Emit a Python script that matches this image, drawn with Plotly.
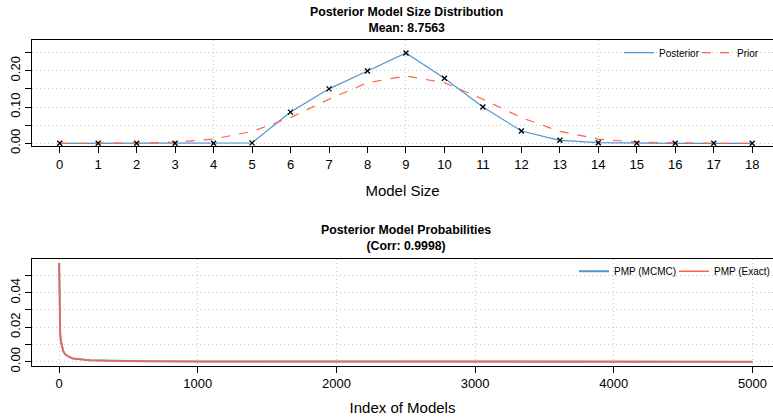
import plotly.graph_objects as go

# ---- data ----
model_size = list(range(19))
posterior = [0.0, 0.0, 0.0, 0.0, 0.0002, 0.0012, 0.086, 0.150, 0.199, 0.249,
             0.179, 0.100, 0.034, 0.0083, 0.0017, 0.0003, 0.0001, 0.0, 0.0]
prior = [0.000004, 0.000069, 0.000584, 0.003113, 0.011673, 0.032684, 0.070816,
         0.121399, 0.166924, 0.185471, 0.166924, 0.121399, 0.070816, 0.032684,
         0.011673, 0.003113, 0.000584, 0.000069, 0.000004]

model_index = [1, 2, 3, 4, 6, 8, 12, 20, 30, 45, 70, 100, 150, 220, 300, 400,
               600, 1000, 2000, 3000, 4000, 5000]
pmp_mcmc = [0.0570, 0.0405, 0.0318, 0.0268, 0.0208, 0.0170, 0.0126, 0.0086,
            0.0061, 0.0043, 0.0029, 0.0019, 0.0013, 0.0009, 0.0007, 0.0005,
            0.0003, 0.00015, 0.00006, 0.00003, 0.00002, 0.00001]
pmp_exact = [0.0574, 0.0410, 0.0320, 0.0270, 0.0210, 0.0171, 0.0125, 0.0085,
             0.0060, 0.0042, 0.0028, 0.0019, 0.0013, 0.0009, 0.0007, 0.0005,
             0.0003, 0.00015, 0.00006, 0.00003, 0.00002, 0.00001]

top_yticks = [0.0, 0.05, 0.10, 0.15, 0.20, 0.25]
top_yticklabels = ["0.00", "", "0.10", "", "0.20", ""]
bot_yticks = [0.0, 0.01, 0.02, 0.03, 0.04, 0.05]
bot_yticklabels = ["0.00", "", "0.02", "", "0.04", ""]
bot_xticks = [0, 1000, 2000, 3000, 4000, 5000]

BLUE = "#4F94CD"
RED = "#FF6347"
GRID = "#C8C8C8"
GDASH = "1px,3px"
W, H = 773, 419
FONT = "Liberation Sans, Arial, Helvetica, sans-serif"

fig = go.Figure()

fig.add_trace(go.Scatter(x=model_size, y=posterior, mode="lines", name="Posterior",
                         line=dict(color=BLUE, width=1.2),
                         xaxis="x", yaxis="y", legend="legend"))
fig.add_trace(go.Scatter(x=model_size, y=prior, mode="lines", name="Prior",
                         line=dict(color=RED, width=1.2, dash="dash"),
                         xaxis="x", yaxis="y", legend="legend3"))
fig.add_trace(go.Scatter(x=model_size, y=posterior, mode="markers", showlegend=False,
                         marker=dict(symbol="x-thin", size=5, color="black",
                                     line=dict(color="black", width=1.3)),
                         xaxis="x", yaxis="y"))

fig.add_trace(go.Scatter(x=model_index, y=pmp_mcmc, mode="lines", name="PMP (MCMC)",
                         line=dict(color=BLUE, width=2),
                         xaxis="x2", yaxis="y2", legend="legend2"))
fig.add_trace(go.Scatter(x=model_index, y=pmp_exact, mode="lines", name="PMP (Exact)",
                         line=dict(color=RED, width=1.6),
                         xaxis="x2", yaxis="y2", legend="legend4"))

def px_y(p):
    return 1 - p / H

def px_x(p):
    return p / W

axis_common = dict(showline=True, linecolor="black", linewidth=1, ticks="outside",
                   ticklen=6, tickcolor="black", tickfont=dict(size=13, color="black"),
                   zeroline=False, automargin=False)

top_dom = [px_y(146), px_y(40)]
bot_dom = [px_y(365.7), px_y(259)]
xdom = [32 / W, 1.0]

def leg(text_left_px, y_px):
    return dict(orientation="h", x=px_x(text_left_px - 39), xanchor="left",
                y=px_y(y_px), yanchor="middle", font=dict(size=10),
                bgcolor="rgba(0,0,0,0)", itemwidth=30)

fig.update_layout(
    width=W, height=H, margin=dict(l=0, r=0, t=0, b=0, autoexpand=False),
    plot_bgcolor="white", paper_bgcolor="white",
    font=dict(family=FONT, color="black"),
    xaxis=dict(domain=xdom, anchor="y", range=[-0.72, 18.54], tickmode="array",
               tickvals=model_size, showgrid=False, mirror=True,
               minor=dict(tickvals=[4, 9, 14], showgrid=True, gridcolor=GRID,
                          griddash=GDASH, gridwidth=1, ticklen=0),
               title=dict(text="Model Size", font=dict(size=15), standoff=14),
               **axis_common),
    yaxis=dict(domain=top_dom, anchor="x", range=[-0.0074, 0.2846], tickmode="array",
               tickvals=top_yticks, ticktext=top_yticklabels, tickangle=-90,
               showgrid=True, gridcolor=GRID, griddash=GDASH, gridwidth=1,
               **axis_common),
    xaxis2=dict(domain=xdom, anchor="y2", range=[-195, 5148], tickmode="array",
                tickvals=bot_xticks, showgrid=True, gridcolor=GRID,
                griddash=GDASH, gridwidth=1, mirror=True,
                title=dict(text="Index of Models", font=dict(size=15), standoff=12),
                **axis_common),
    yaxis2=dict(domain=bot_dom, anchor="x2", range=[-0.0023, 0.0595], tickmode="array",
                tickvals=bot_yticks, ticktext=bot_yticklabels, tickangle=-90,
                showgrid=True, gridcolor=GRID, griddash=GDASH, gridwidth=1,
                **axis_common),
    legend=leg(658, 52.7),
    legend3=leg(736, 52.7),
    legend2=leg(613, 271.3),
    legend4=leg(713, 271.3),
    showlegend=True,
)

cx = (32 + 780) / 2 / W
fig.add_annotation(text="<b>Posterior Model Size Distribution</b><br><b>Mean: 8.7563</b>",
                   xref="paper", yref="paper", x=cx, y=px_y(3), xanchor="center",
                   yanchor="top", showarrow=False, font=dict(size=12.3))
fig.add_annotation(text="<b>Posterior Model Probabilities</b><br><b>(Corr: 0.9998)</b>",
                   xref="paper", yref="paper", x=cx, y=px_y(221), xanchor="center",
                   yanchor="top", showarrow=False, font=dict(size=12.3))

fig.write_html("out.html", config={"displayModeBar": False},
               post_script="document.body.style.margin='0';document.body.style.overflow='hidden';")
